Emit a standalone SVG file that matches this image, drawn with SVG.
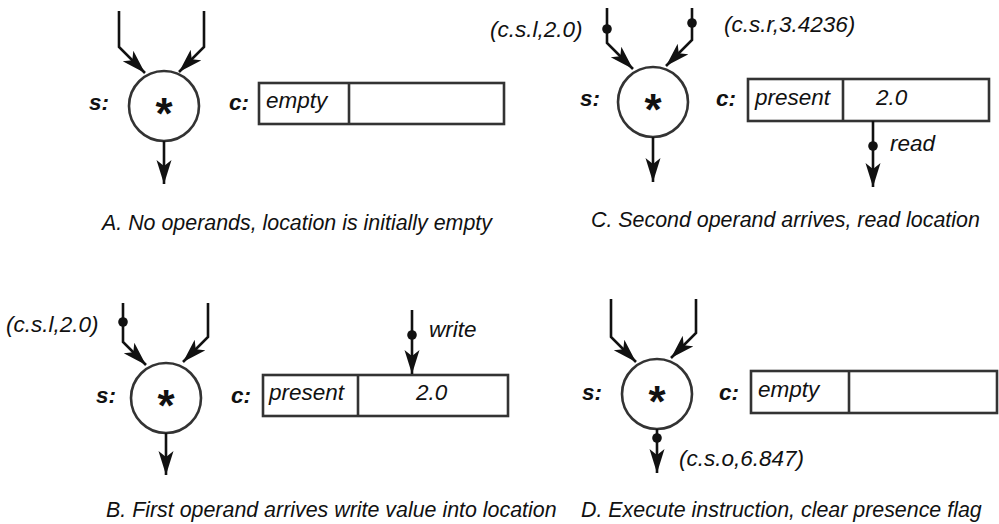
<svg xmlns="http://www.w3.org/2000/svg" width="999" height="524" viewBox="0 0 999 524">
<style>
  text { font-family: "Liberation Sans", Arial, sans-serif; fill: #111; }
  .lbl { font-size: 22.5px; font-style: italic; }
  .key { font-size: 22.5px; font-style: italic; font-weight: bold; }
  .cap { font-size: 21.4px; font-style: italic; }
  .op { font-size: 44px; font-weight: bold; text-anchor: middle; }
  .node { fill: #fff; stroke: #333; stroke-width: 2.6; }
  .div { stroke: #333; stroke-width: 2.6; fill: none; }
  .wire { fill: none; stroke: #111; stroke-width: 2.6; marker-end: url(#arr); }
  .dot { fill: #111; }
</style>
<defs>
  <marker id="arr" markerUnits="userSpaceOnUse" markerWidth="26" markerHeight="16" refX="24" refY="7.5" orient="auto">
    <path d="M0,0 L24,7.5 L0,15 L6,7.5 Z" fill="#111"/>
  </marker>
</defs>
<rect width="999" height="524" fill="#fff"/>

<!-- Panel A -->
<g id="A-actor">
  <circle class="node" cx="164" cy="106" r="35"/>
  <text class="op" x="164" y="129">*</text>
  <text class="key" x="89" y="110">s:</text>
</g>
<g id="A-location">
  <text class="key" x="229" y="110">c:</text>
  <rect class="node" x="259" y="83" width="245" height="41"/>
  <line class="div" x1="349" y1="83" x2="349" y2="124"/>
  <text class="lbl" x="266" y="108">empty</text>
</g>
<text id="A-caption" class="cap" x="102" y="230">A. No operands, location is initially empty</text>

<!-- Panel C -->
<g id="C-actor">
  <circle class="node" cx="653" cy="102" r="35"/>
  <text class="op" x="653" y="125">*</text>
  <text class="key" x="580" y="106">s:</text>
</g>
<g id="C-location">
  <text class="key" x="716" y="106">c:</text>
  <rect class="node" x="748" y="79" width="241" height="42"/>
  <line class="div" x1="843" y1="79" x2="843" y2="121"/>
  <text class="lbl" x="755" y="105">present</text>
  <text class="lbl" x="876" y="105">2.0</text>
</g>
<text id="C-caption" class="cap" x="591" y="227">C. Second operand arrives, read location</text>

<!-- Panel B -->
<g id="B-actor">
  <circle class="node" cx="166" cy="398" r="35"/>
  <text class="op" x="166" y="421">*</text>
  <text class="key" x="96" y="403">s:</text>
</g>
<g id="B-location">
  <text class="key" x="231" y="403">c:</text>
  <rect class="node" x="263" y="375" width="245" height="41"/>
  <line class="div" x1="358" y1="375" x2="358" y2="416"/>
  <text class="lbl" x="269" y="400">present</text>
  <text class="lbl" x="416" y="400">2.0</text>
</g>
<text id="B-caption" class="cap" x="106" y="517">B. First operand arrives write value into location</text>

<!-- Panel D -->
<g id="D-actor">
  <circle class="node" cx="657" cy="394" r="35"/>
  <text class="op" x="657" y="417">*</text>
  <text class="key" x="582" y="400">s:</text>
</g>
<g id="D-location">
  <text class="key" x="719" y="400">c:</text>
  <rect class="node" x="751" y="371" width="246" height="42"/>
  <line class="div" x1="849" y1="371" x2="849" y2="413"/>
  <text class="lbl" x="758" y="397">empty</text>
</g>
<text id="D-caption" class="cap" x="581" y="517">D. Execute instruction, clear presence flag</text>

<!-- Connectors -->
<g id="connectors">
  <!-- A -->
  <path class="wire" d="M119,11 V47 L145,73"/>
  <path class="wire" d="M204,11 V47 L179,72"/>
  <path class="wire" d="M164,141 V184"/>
  <!-- C -->
  <path class="wire" d="M607,8 V43 L633,69"/>
  <path class="wire" d="M692,8 V40 L666,66"/>
  <path class="wire" d="M653,137 V182"/>
  <path class="wire" d="M873,121 V187"/>
  <circle class="dot" cx="607" cy="29" r="4.8"/>
  <circle class="dot" cx="692" cy="23" r="4.8"/>
  <circle class="dot" cx="873" cy="146" r="4.8"/>
  <text class="lbl" x="490" y="37">(c.s.l,2.0)</text>
  <text class="lbl" x="724" y="32">(c.s.r,3.4236)</text>
  <text class="lbl" x="890" y="151">read</text>
  <!-- B -->
  <path class="wire" d="M123,303 V342 L146,365"/>
  <path class="wire" d="M208,303 V337 L183,362"/>
  <path class="wire" d="M166,433 V475"/>
  <path class="wire" d="M412,310 V374"/>
  <circle class="dot" cx="123" cy="322" r="4.8"/>
  <circle class="dot" cx="412" cy="335" r="4.8"/>
  <text class="lbl" x="6" y="332">(c.s.l,2.0)</text>
  <text class="lbl" x="429" y="337">write</text>
  <!-- D -->
  <path class="wire" d="M611,299 V337 L636,362"/>
  <path class="wire" d="M696,299 V333 L671,358"/>
  <path class="wire" d="M657,429 V473"/>
  <circle class="dot" cx="657" cy="438" r="4.8"/>
  <text class="lbl" x="679" y="466">(c.s.o,6.847)</text>
</g>
</svg>
